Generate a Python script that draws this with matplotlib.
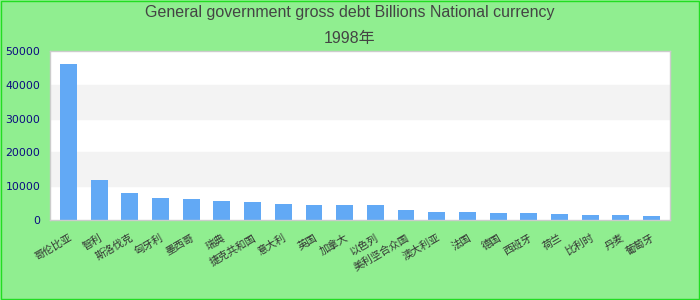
import numpy as np
import matplotlib.pyplot as plt
from matplotlib.patches import Rectangle

# country labels and 1998 debt values (billions, national currency)
countries = ['哥伦比亚', '智利', '斯洛伐克', '匈牙利', '墨西哥', '瑞典', '捷克共和国',
             '意大利', '英国', '加拿大', '以色列', '美利坚合众国', '澳大利亚', '法国',
             '德国', '西班牙', '荷兰', '比利时', '丹麦', '葡萄牙']
debt = [46150, 11830, 7990, 6510, 6210, 5620, 5330, 4730, 4440, 4440,
        4440, 2960, 2370, 2370, 2070, 2070, 1780, 1480, 1480, 1180]
yticks = [0, 10000, 20000, 30000, 40000, 50000]

plt.rcParams['font.family'] = ['Noto Sans CJK SC', 'DejaVu Sans']

fig = plt.figure(figsize=(7, 3), dpi=100, facecolor='#90ee90')
ax = fig.add_axes([50 / 700, 80 / 300, 620 / 700, 169 / 300])
ax.set_facecolor('white')

# alternating bands
for i in range(len(yticks) - 1):
    if i % 2 == 1:
        ax.axhspan(yticks[i], yticks[i + 1], color='#f3f3f3', zorder=0)

x = np.arange(len(countries))
ax.bar(x, debt, width=0.55, color='#62a9f5', zorder=2)

ax.set_xlim(-0.6, len(countries) - 0.4)
ax.set_ylim(0, 50000)
ax.set_yticks(yticks)
ax.set_yticklabels([str(v) for v in yticks], color='#0a0a80', fontsize=7.8,
                   family='DejaVu Sans')
ax.set_xticks(x)
ax.set_xticklabels(countries, rotation=30, ha='right', fontsize=7.5, color='#333333',
                   rotation_mode='anchor')
ax.tick_params(axis='y', length=0, pad=7)
ax.tick_params(axis='x', length=0, pad=9)
for s in ax.spines.values():
    s.set_color('#cccccc')
    s.set_linewidth(1)

fig.text(0.5, 1 - 13 / 300, 'General government gross debt Billions National currency',
         ha='center', va='center', fontsize=11.5, color='#444444', family='Liberation Sans')
fig.text(0.5, 1 - 38 / 300, '1998年', ha='center', va='center', fontsize=11.5,
         color='#444444', family=['Liberation Sans', 'Noto Sans CJK SC'])

fig.patches.append(Rectangle((0.001, 0.002), 0.998, 0.995, transform=fig.transFigure,
                             fill=False, edgecolor='#22dd22', linewidth=1))

fig.savefig('out.png', dpi=100, facecolor=fig.get_facecolor())
